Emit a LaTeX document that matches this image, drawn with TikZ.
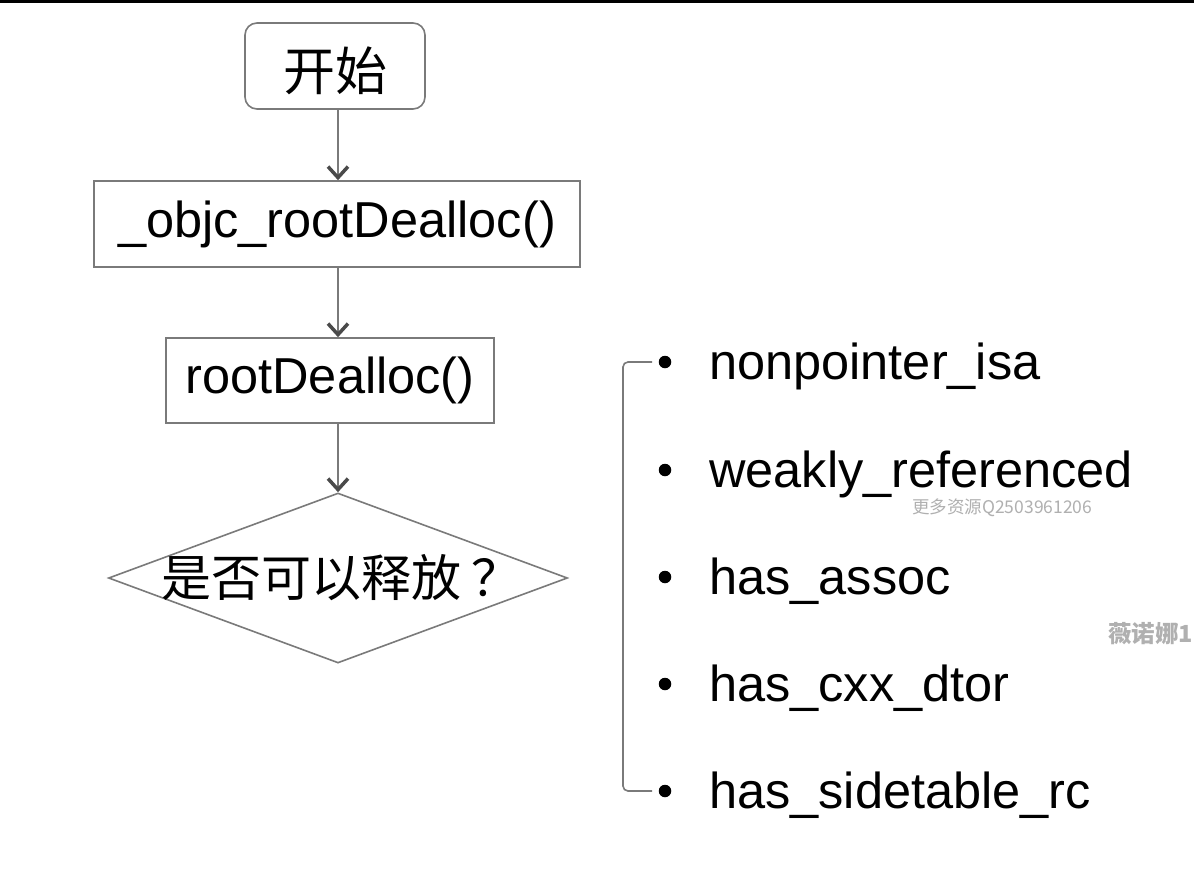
\documentclass[tikz,border=0pt]{standalone}
\usepackage{fontspec}
\setmainfont{Liberation Sans}
\newfontfamily\cjk{Noto Sans CJK SC}
\usetikzlibrary{shapes.geometric,arrows.meta}
\definecolor{linegray}{HTML}{7A7A7A}
\definecolor{tipgray}{HTML}{4A4A4A}
\definecolor{wmgray}{HTML}{B0B0B0}
\tikzset{
  flowbox/.style={draw=linegray, line width=1.6pt, inner sep=0pt, fill=white},
  bigtxt/.style={font=\fontsize{50.5}{60}\selectfont},
  cjktxt/.style={font=\cjk\fontsize{52}{62}\selectfont},
  flowarrow/.style={draw=linegray, line width=1.6pt,
    -{Straight Barb[length=11pt,width=20pt,line width=3.5pt,color=tipgray]}},
  bullet/.style={circle, fill=black, inner sep=0pt, minimum size=12.5pt},
  itemtxt/.style={bigtxt, anchor=base west, inner sep=0pt},
  wmark/.style={text=wmgray, inner sep=0pt}
}
\begin{document}
\begin{tikzpicture}[x=1pt,y=-1pt]
\useasboundingbox (0,0) rectangle (1194,884);
\clip (0,0) rectangle (1194,884);
\fill[white] (0,0) rectangle (1194,884);
\fill[black] (0,0) rectangle (1194,2.5);

% flow chart
\node[flowbox, rounded corners=12pt, minimum width=180pt, minimum height=86pt, cjktxt] (start) at (335,66) {\raisebox{-5pt}[\height][\depth]{开始}};
\node[flowbox, minimum width=486pt, minimum height=86pt, bigtxt] (b1) at (337,224) {\_objc\_rootDealloc()};
\node[flowbox, minimum width=328pt, minimum height=85pt, bigtxt] (b2) at (330,380.5) {rootDealloc()};
\node[diamond, draw=linegray, line width=1.6pt, inner sep=0pt, minimum width=459pt, minimum height=170pt] (dec) at (338,578) {};
\node[inner sep=0pt, font=\cjk\fontsize{50}{60}\selectfont] (dectxt) at (341,578) {是否可以释放\kern10pt ？};

\draw[flowarrow] (start.south -| dec.north) -- (b1.north -| dec.north);
\draw[flowarrow] (b1.south -| dec.north) -- (b2.north -| dec.north);
\draw[flowarrow] (b2.south -| dec.north) -- (dec.north);

% bullet list
\node[bullet] (p1) at (665,362) {};
\node[bullet] (p2) at (665,470) {};
\node[bullet] (p3) at (665,577) {};
\node[bullet] (p4) at (665,684) {};
\node[bullet] (p5) at (665,791) {};
\node[itemtxt] (t1) at (709,379) {nonpointer\_isa};
\node[itemtxt] (t2) at (709,487) {weakly\_referenced};
\node[itemtxt] (t3) at (709,594) {has\_assoc};
\node[itemtxt] (t4) at (709,701) {has\_cxx\_dtor};
\node[itemtxt] (t5) at (709,808) {has\_sidetable\_rc};

% bracket
\coordinate (bt) at (652,362);
\coordinate (bb) at (652,791);
\draw[linegray, line width=1.6pt, rounded corners=5pt] (bt) -- (623,362) -- (623,791) -- (bb);

% watermarks
\node[wmark, font=\cjk\fontsize{17.5}{20}\selectfont, anchor=west] (wm1) at (912,508) {更多资源Q2503961206};
\node[wmark, font=\cjk\bfseries\fontsize{23.5}{28}\selectfont, anchor=west] (wm2) at (1108,634) {薇诺娜1};
\end{tikzpicture}
\end{document}
